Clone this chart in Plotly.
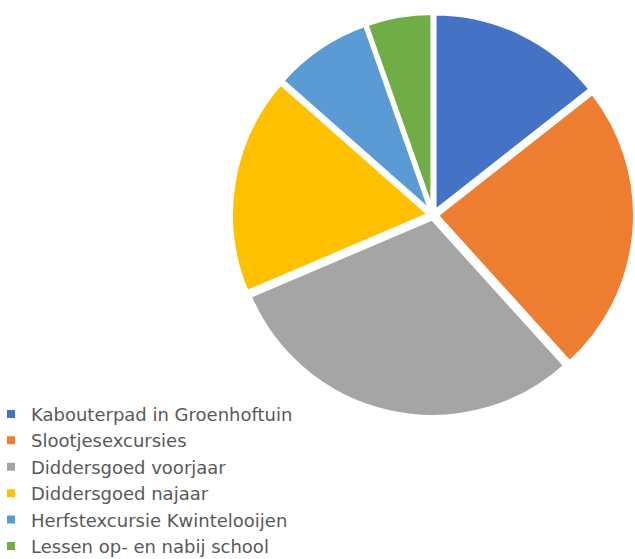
import plotly.graph_objects as go

labels = ["Kabouterpad in Groenhoftuin", "Slootjesexcursies", "Diddersgoed voorjaar",
          "Diddersgoed najaar", "Herfstexcursie Kwintelooijen", "Lessen op- en nabij school"]
values = [14.4, 23.9, 30.3, 17.9, 8.1, 5.4]
colors = ["#4472C4", "#ED7D31", "#A5A5A5", "#FFC000", "#5B9BD5", "#70AD47"]

fig = go.Figure(go.Pie(
    labels=labels, values=values, sort=False, direction="clockwise", rotation=0,
    marker=dict(colors=colors, line=dict(color="white", width=4)),
    pull=[0.018] * len(values),
    textinfo="none", hoverinfo="label+percent",
    domain=dict(x=[0.3638, 1.0], y=[0.254, 0.9767]),
))
fig.update_layout(
    width=635, height=559,
    margin=dict(l=0, r=0, t=0, b=0, autoexpand=False),
    paper_bgcolor="white", plot_bgcolor="white",
    font=dict(family="DejaVu Sans", color="#595959"),
    legend=dict(x=-0.0142, y=0.292, xanchor="left", yanchor="top",
                font=dict(size=18, color="#595959", family="DejaVu Sans"),
                traceorder="normal", itemclick=False, tracegroupgap=0),
    showlegend=True,
)
fig.write_html(
    "out.html",
    config={"displayModeBar": False},
    post_script="document.body.style.margin='0px';document.body.style.overflow='hidden';",
)
